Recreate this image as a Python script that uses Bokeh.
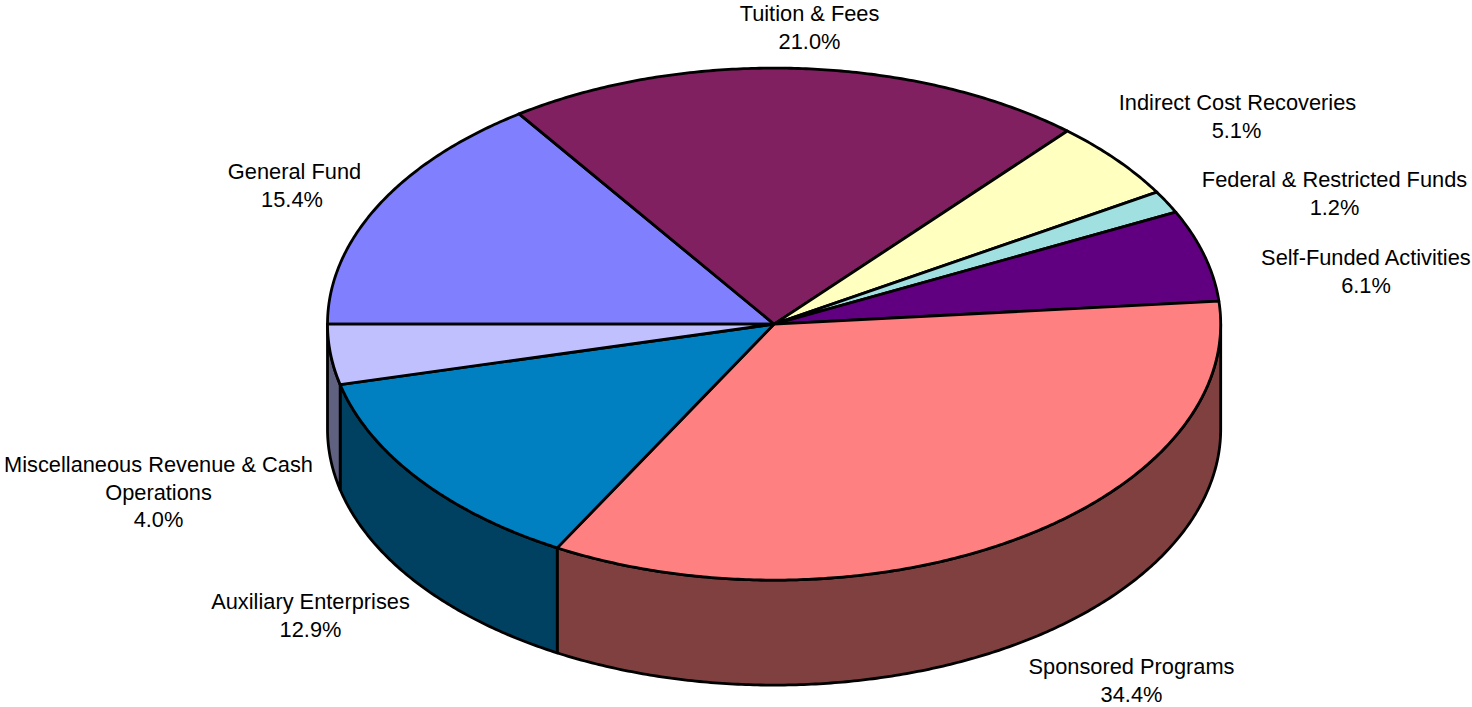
import numpy as np
from bokeh.plotting import figure
from bokeh.models import Range1d
from bokeh.core.properties import value
from bokeh.embed import file_html
from bokeh.resources import INLINE

categories = ["General Fund", "Tuition & Fees", "Indirect Cost Recoveries",
              "Federal & Restricted Funds", "Self-Funded Activities",
              "Sponsored Programs", "Auxiliary Enterprises",
              "Miscellaneous Revenue & Cash Operations"]
# percentages printed on the labels
shares = [15.4, 21.0, 5.1, 1.2, 6.1, 34.4, 12.9, 4.0]
# slice sizes as read from the drawn wedges (they differ slightly from the printed ones)
slice_sizes = [15.33, 21.07, 4.98, 1.42, 5.77, 34.5, 13.13, 3.8]
top_colors = ["#8080FF", "#802060", "#FFFFC0", "#A0E0E0", "#600080", "#FF8080", "#0080C0", "#C0C0FF"]
side_colors = ["#404080", "#401030", "#808060", "#507070", "#300040", "#804040", "#004060", "#606080"]

label_lines = [["General Fund"], ["Tuition & Fees"], ["Indirect Cost Recoveries"],
               ["Federal & Restricted Funds"], ["Self-Funded Activities"],
               ["Sponsored Programs"], ["Auxiliary Enterprises"],
               ["Miscellaneous Revenue & Cash", "Operations"]]
label_x = [294, 809, 1237, 1334, 1366, 1131, 310, 158]
pct_x = [291.5, 809, 1236, 1334, 1365.5, 1131, 310, 158]
label_y = [171, 13, 102, 179, 257, 666, 601, 464]
LINE = 27.6

CX, CY, RX, RY, DEPTH = 773.6, 323.6, 446.6, 256.0, 105.0

p = figure(width=1472, height=707, x_range=Range1d(0, 1472), y_range=Range1d(707, 0),
           toolbar_location=None, output_backend="svg", min_border=0,
           outline_line_color=None, background_fill_color="white", border_fill_color="white")
p.axis.visible = False
p.grid.visible = False


def arc(a0, a1, dy=0.0):
    n = max(2, int(abs(a1 - a0) * 2) + 2)
    t = np.radians(np.linspace(a0, a1, n))
    return CX + RX * np.cos(t), CY - RY * np.sin(t) + dy


# angle runs clockwise on screen, starting at the left edge (180 deg)
fractions = np.array(slice_sizes) / sum(slice_sizes)
edges = 180.0 - 360.0 * np.concatenate([[0.0], np.cumsum(fractions)])

wx, wy, wc = [], [], []
for i in range(len(slice_sizes)):
    a0, a1 = edges[i], edges[i + 1]
    lo, hi = max(a1, -180.0), min(a0, 0.0)
    if hi <= lo:
        continue
    x0, y0 = arc(hi, lo)
    x1, y1 = arc(lo, hi, DEPTH)
    wx.append(np.concatenate([x0, x1]))
    wy.append(np.concatenate([y0, y1]))
    wc.append(side_colors[i])
p.patches(wx, wy, fill_color=wc, line_color="black", line_width=2.8, line_join="round")

tx, ty, tc = [], [], []
for i in range(len(slice_sizes)):
    x0, y0 = arc(edges[i], edges[i + 1])
    tx.append(np.concatenate([[CX], x0]))
    ty.append(np.concatenate([[CY], y0]))
    tc.append(top_colors[i])
p.patches(tx, ty, fill_color=tc, line_color="black", line_width=2.8, line_join="round")

xs, ys, texts = [], [], []
for lines, s, lx, px, ly in zip(label_lines, shares, label_x, pct_x, label_y):
    for k, r in enumerate(lines):
        xs.append(lx)
        ys.append(ly + k * LINE)
        texts.append(r)
    xs.append(px)
    ys.append(ly + len(lines) * LINE)
    texts.append(f"{s:.1f}%")
p.text(x=xs, y=ys, text=texts, text_font=value("Liberation Sans"), text_font_size="21.8px",
       text_color="black", text_align="center", text_baseline="middle")

open("out.html", "w").write(file_html(p, INLINE))
